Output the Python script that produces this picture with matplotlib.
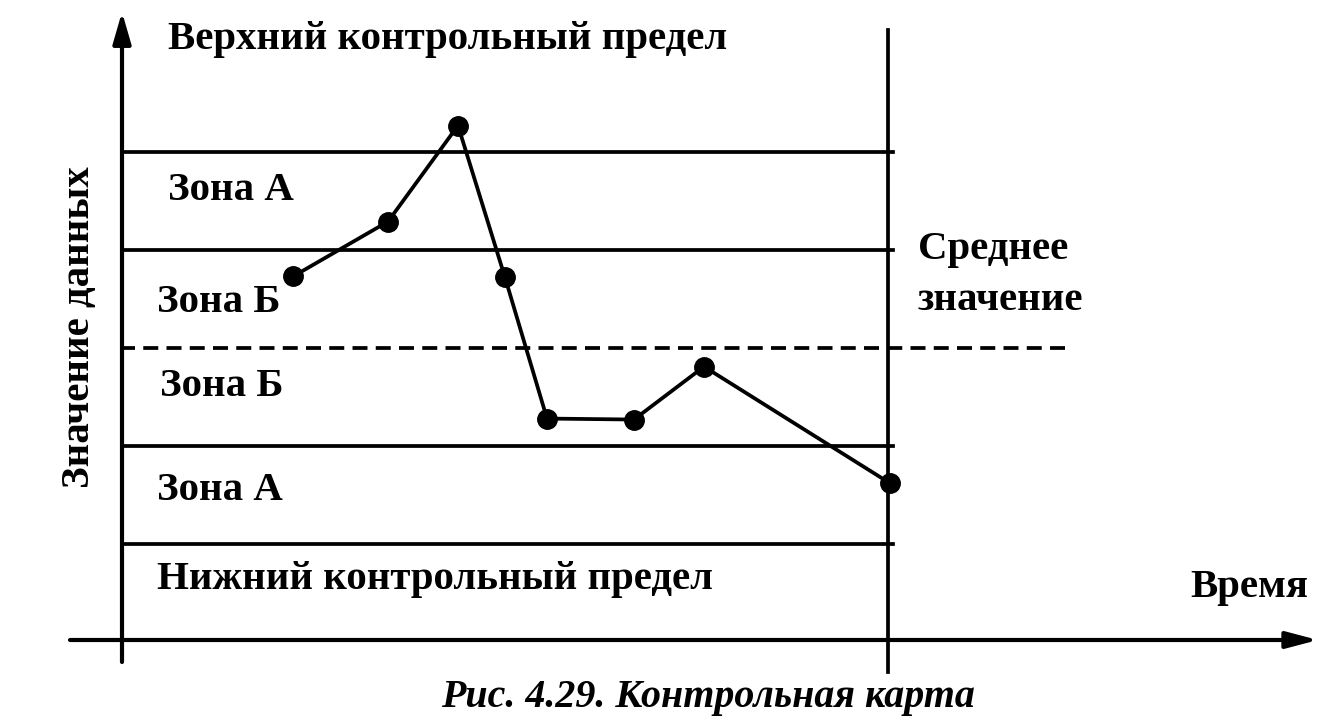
import numpy as np
import matplotlib.pyplot as plt

# observations (time position, value in zone widths from the mean)
times = [293, 388, 458, 505, 547, 634, 704, 890]
values = [0.73, 1.29, 2.27, 0.72, -0.72, -0.73, -0.19, -1.38]

# zone boundaries, in zone widths from the mean
zone_lines = [2, 1, -1, -2]
mean_level = 0

zone_labels = ["Зона А", "Зона Б", "Зона Б", "Зона А"]

plt.rcParams['font.family'] = ['Liberation Serif', 'DejaVu Serif']

fig = plt.figure(figsize=(13.31, 7.27), dpi=100)
# decoration layer in pixel coordinates
deco = fig.add_axes([0, 0, 1, 1])
deco.set_xlim(0, 1331)
deco.set_ylim(727, 0)
deco.axis('off')

# data layer: y in zone widths (98 px), mean at pixel 348
ax = fig.add_axes([0, 0, 1, 1])
ax.set_xlim(0, 1331)
ax.set_ylim((348 - 727) / 98, 348 / 98)
ax.axis('off')

lw = 2.7
# axes with arrows
deco.annotate('', xy=(122, 12), xytext=(122, 662),
              arrowprops=dict(arrowstyle='-|>,head_length=1.9,head_width=0.55',
                              lw=3, color='black', shrinkA=0, shrinkB=0))
deco.annotate('', xy=(1318, 640), xytext=(70, 640),
              arrowprops=dict(arrowstyle='-|>,head_length=1.9,head_width=0.5',
                              lw=3, color='black', shrinkA=0, shrinkB=0))
deco.plot([888, 888], [30, 672], color='black', lw=lw)

for lvl in zone_lines:
    ax.plot([122, 893], [lvl, lvl], color='black', lw=lw)
ax.plot([120, 1070], [mean_level, mean_level], color='black', lw=lw,
        linestyle=(0, (4, 2.2)))

ax.plot(times, values, color='black', lw=lw, marker='o', markersize=14)

fs = 29.4
fw = 'bold'
deco.text(168, 40, "Верхний контрольный предел", fontsize=fs, fontweight=fw,
          va='center', ha='left')
deco.text(157, 580, "Нижний контрольный предел", fontsize=fs, fontweight=fw,
          va='center', ha='left')
zone_xy = [(168, 190), (157, 303), (160, 387), (157, 490)]
for (x, y), lab in zip(zone_xy, zone_labels):
    deco.text(x, y, lab, fontsize=fs, fontweight=fw, va='center', ha='left')
deco.text(918, 250, "Среднее", fontsize=fs, fontweight=fw, va='center', ha='left')
deco.text(918, 300, "значение", fontsize=fs, fontweight=fw, va='center', ha='left')
deco.text(1190, 588, "Время", fontsize=fs, fontweight=fw, va='center', ha='left')
deco.text(80, 327, "Значение данных", fontsize=fs, fontweight=fw,
          va='center', ha='center', rotation=90)
deco.text(708, 697, "Рис. 4.29. Контрольная карта", fontsize=28.8,
          fontstyle='italic', fontweight='bold', va='center', ha='center')

fig.savefig('out.png', dpi=100)
